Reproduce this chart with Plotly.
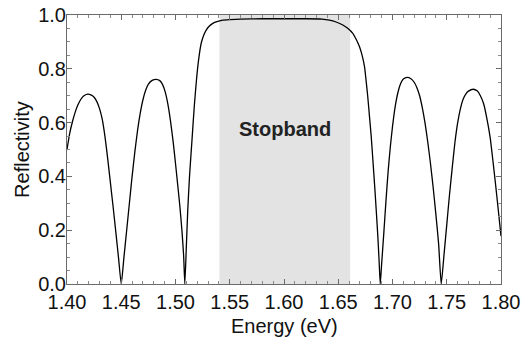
import plotly.graph_objects as go

energy = [
    1.400, 1.4025, 1.405, 1.4075, 1.410, 1.4125, 1.415, 1.419, 1.4225, 1.425,
    1.4275, 1.430, 1.4325, 1.435, 1.4375, 1.440, 1.4425, 1.445, 1.4475, 1.450,
    1.4525, 1.455, 1.4575, 1.460, 1.4625, 1.465, 1.4675, 1.470, 1.4725, 1.475,
    1.4785, 1.4822, 1.4855, 1.488, 1.4905, 1.493, 1.4955, 1.498, 1.500, 1.502,
    1.504, 1.506, 1.5075, 1.5086,
    1.5100, 1.5113, 1.5130, 1.5150, 1.5173, 1.5196, 1.5215, 1.5237, 1.5260, 1.5283,
    1.5310, 1.5344, 1.5390, 1.5436, 1.5500, 1.5600, 1.5800, 1.6000, 1.6200, 1.6350,
    1.6419, 1.6480, 1.6542, 1.6590, 1.6634, 1.6665, 1.6696, 1.6720, 1.6742, 1.6757,
    1.6772, 1.6788, 1.6804, 1.6819, 1.6834, 1.6850, 1.6865, 1.6876, 1.6887,
    1.6900, 1.6920, 1.6940, 1.6960, 1.6980, 1.7000, 1.7025, 1.7050, 1.7075, 1.7100,
    1.7135, 1.7170, 1.7200, 1.7225, 1.7250, 1.7275, 1.7300, 1.7325, 1.7350, 1.7375,
    1.7400, 1.7425, 1.7449,
    1.7475, 1.7500, 1.7525, 1.7550, 1.7575, 1.7600, 1.7625, 1.7650, 1.7675, 1.7700,
    1.7744, 1.7780, 1.7810, 1.7840, 1.7870, 1.7900, 1.7925, 1.7950, 1.7975, 1.8000,
]
reflectivity = [
    0.500, 0.560, 0.603, 0.638, 0.665, 0.685, 0.698, 0.706, 0.702, 0.694,
    0.678, 0.652, 0.612, 0.548, 0.466, 0.377, 0.287, 0.193, 0.097, 0.000,
    0.100, 0.200, 0.300, 0.400, 0.490, 0.570, 0.635, 0.685, 0.720, 0.743,
    0.757, 0.761, 0.756, 0.742, 0.714, 0.668, 0.603, 0.523, 0.448, 0.370,
    0.290, 0.195, 0.105, 0.000,
    0.140, 0.275, 0.405, 0.523, 0.660, 0.771, 0.840, 0.895, 0.925, 0.944,
    0.958, 0.969, 0.976, 0.981, 0.983, 0.985, 0.986, 0.986, 0.986, 0.985,
    0.981, 0.974, 0.963, 0.950, 0.932, 0.910, 0.882, 0.850, 0.808, 0.755,
    0.696, 0.622, 0.548, 0.462, 0.374, 0.275, 0.176, 0.090, 0.000,
    0.075, 0.190, 0.310, 0.420, 0.510, 0.585, 0.660, 0.712, 0.745, 0.762,
    0.768, 0.763, 0.750, 0.730, 0.700, 0.655, 0.598, 0.528, 0.448, 0.358,
    0.258, 0.150, 0.000,
    0.110, 0.220, 0.330, 0.430, 0.525, 0.598, 0.650, 0.686, 0.706, 0.717,
    0.724, 0.718, 0.700, 0.670, 0.615, 0.545, 0.460, 0.370, 0.275, 0.178,
]
stopband = [1.5405, 1.661]
stopband_label = "Stopband"
x_title = "Energy (eV)"
y_title = "Reflectivity"
x_range = [1.40, 1.80]
y_range = [0.0, 1.0]

FONT = "Liberation Sans, Arial, Helvetica, sans-serif"

fig = go.Figure()
fig.add_shape(type="rect", xref="x", yref="paper", x0=stopband[0], x1=stopband[1],
              y0=0, y1=1, fillcolor="#e3e3e3", line_width=0, layer="below")
fig.add_trace(go.Scatter(x=energy, y=reflectivity, mode="lines",
                         line=dict(color="black", width=1.3, shape="spline", smoothing=0.5),
                         hoverinfo="skip", showlegend=False))
fig.add_annotation(x=sum(stopband) / 2, y=0.575, xref="x", yref="y",
                   text="<b>" + stopband_label + "</b>", showarrow=False,
                   font=dict(family=FONT, size=20, color="#222"))
fig.add_annotation(x=0.5, y=-0.156, xref="paper", yref="paper", text=x_title,
                   showarrow=False, xanchor="center", yanchor="middle",
                   font=dict(family=FONT, size=20, color="#111"))
fig.add_annotation(x=-0.105, y=0.5, xref="paper", yref="paper", text=y_title,
                   showarrow=False, xanchor="center", yanchor="middle", textangle=-90,
                   font=dict(family=FONT, size=20, color="#111"))

axis_common = dict(showline=True, linecolor="#6a6a6a", linewidth=1, mirror="ticks",
                   ticks="inside", ticklen=5, tickcolor="#6a6a6a", showgrid=False,
                   zeroline=False, automargin=False,
                   tickfont=dict(family=FONT, size=20, color="#111"))
fig.update_xaxes(range=x_range, dtick=0.05, tick0=1.40, tickformat=".2f",
                 minor=dict(dtick=0.01, ticks="inside", ticklen=3, tickcolor="#8a8a8a"),
                 **axis_common)
fig.update_yaxes(range=y_range, dtick=0.2, tick0=0, tickformat=".1f",
                 ticklabelstandoff=-4,
                 minor=dict(dtick=0.05, ticks="inside", ticklen=3, tickcolor="#8a8a8a"),
                 **axis_common)
fig.update_layout(width=522, height=342, margin=dict(l=67, r=21, t=15, b=58),
                  plot_bgcolor="white", paper_bgcolor="white")
fig.write_html("out.html")
